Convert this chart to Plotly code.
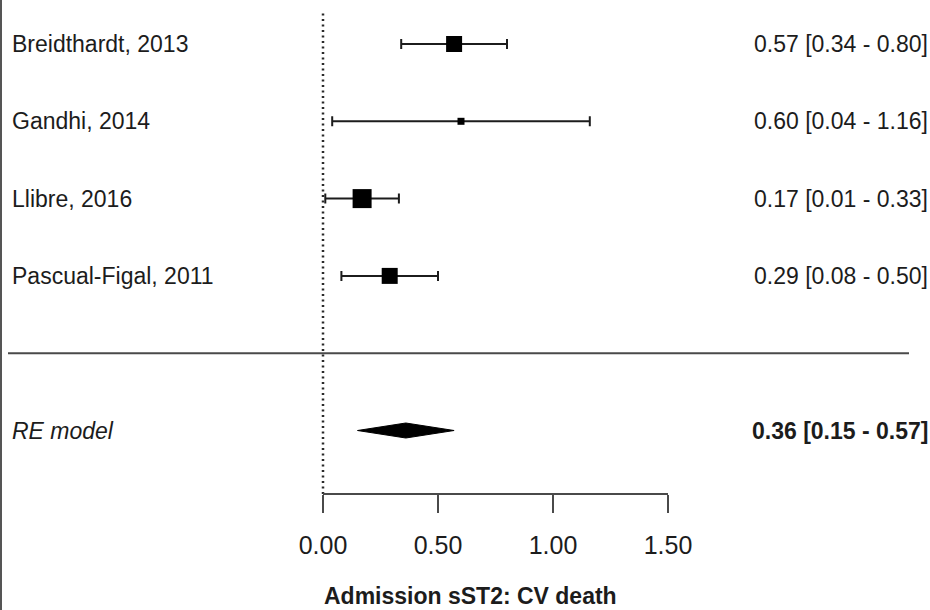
import plotly.graph_objects as go

# Study-level estimates (admission sST2, CV death)
studies = ["Breidthardt, 2013", "Gandhi, 2014", "Llibre, 2016", "Pascual-Figal, 2011"]
estimate = [0.57, 0.60, 0.17, 0.29]
ci_low = [0.34, 0.04, 0.01, 0.08]
ci_high = [0.80, 1.16, 0.33, 0.50]

# Random-effects pooled estimate
pooled_label = "RE model"
pooled_est = 0.36
pooled_low = 0.15
pooled_high = 0.57

tick_vals = [0.0, 0.5, 1.0, 1.5]
x_title = "Admission sST2: CV death"

# styling
W, H = 930, 610
MB = 116                      # bottom margin holding the axis labels
PX_PER_UNIT = 230.0
ZERO_PX = 323.0
ROW1_PX, ROW_STEP = 44.0, 77.3
square_px = [16, 7, 19, 16]   # box sizes reflect study weight
INK = "#1c1c1c"
RULE = "#4a4a4a"
FONT = "Liberation Sans, Arial, sans-serif"

plot_h = H - MB
x_range = [-ZERO_PX / PX_PER_UNIT, (W - ZERO_PX) / PX_PER_UNIT]
y_top = 1 - ROW1_PX / ROW_STEP
y_bot = 1 + (plot_h - ROW1_PX) / ROW_STEP
rows = list(range(1, len(studies) + 1))
sep_row = len(studies) + 1
pooled_row = len(studies) + 2

fig = go.Figure()

# study estimates with confidence intervals
fig.add_trace(go.Scatter(
    x=estimate, y=rows, mode="markers",
    marker=dict(symbol="square", size=square_px, color="black", opacity=1,
                line=dict(width=0)),
    error_x=dict(type="data", symmetric=False,
                 array=[h - e for h, e in zip(ci_high, estimate)],
                 arrayminus=[e - l for e, l in zip(estimate, ci_low)],
                 color=INK, thickness=2, width=5),
    showlegend=False, hoverinfo="skip",
))

# pooled diamond
half_h = 7.5 / ROW_STEP
fig.add_trace(go.Scatter(
    x=[pooled_low, pooled_est, pooled_high, pooled_est, pooled_low],
    y=[pooled_row, pooled_row - half_h, pooled_row, pooled_row + half_h, pooled_row],
    mode="lines", fill="toself", fillcolor="black",
    line=dict(color="black", width=1),
    showlegend=False, hoverinfo="skip",
))

shapes = [
    # reference line at zero
    dict(type="line", xref="x", yref="paper", x0=0, x1=0,
         y0=0, y1=(plot_h - 12) / plot_h,
         line=dict(color="#2a2a2a", width=2.5, dash="2px,3.5px")),
    # separator between studies and pooled estimate
    dict(type="line", xref="paper", yref="y", x0=8 / W, x1=909 / W,
         y0=sep_row, y1=sep_row, line=dict(color=RULE, width=2)),
    # axis baseline over the tick span
    dict(type="line", xref="x", yref="paper", x0=tick_vals[0], x1=tick_vals[-1],
         y0=0, y1=0, line=dict(color=RULE, width=2)),
    # frame edge on the left
    dict(type="line", xref="paper", yref="paper", x0=1 / W, x1=1 / W,
         y0=-MB / plot_h, y1=1, line=dict(color="#555555", width=2)),
]

annotations = []
for r, name, e, lo, hi in zip(rows, studies, estimate, ci_low, ci_high):
    annotations.append(dict(x=10 / W, xref="paper", y=r, yref="y", text=name,
                            xanchor="left", yanchor="middle", showarrow=False,
                            font=dict(size=23, color=INK, family=FONT)))
    annotations.append(dict(x=930 / W, xref="paper", y=r, yref="y",
                            text=f"{e:.2f} [{lo:.2f} - {hi:.2f}]",
                            xanchor="right", yanchor="middle", showarrow=False,
                            font=dict(size=23, color=INK, family=FONT)))
annotations.append(dict(x=10 / W, xref="paper", y=pooled_row, yref="y",
                        text=f"<i>{pooled_label}</i>",
                        xanchor="left", yanchor="middle", showarrow=False,
                        font=dict(size=23, color=INK, family=FONT)))
annotations.append(dict(x=930 / W, xref="paper", y=pooled_row, yref="y",
                        text=f"<b>{pooled_est:.2f} [{pooled_low:.2f} - {pooled_high:.2f}]</b>",
                        xanchor="right", yanchor="middle", showarrow=False,
                        font=dict(size=23, color=INK, family=FONT)))
annotations.append(dict(x=470 / W, xref="paper", y=-(596 - plot_h) / plot_h, yref="paper",
                        text=f"<b>{x_title}</b>", xanchor="center", yanchor="middle",
                        showarrow=False, font=dict(size=23, color=INK, family=FONT)))

fig.update_layout(
    width=W, height=H,
    margin=dict(l=0, r=0, t=0, b=MB),
    paper_bgcolor="white", plot_bgcolor="white",
    shapes=shapes, annotations=annotations,
    xaxis=dict(range=x_range, tickvals=tick_vals, tickformat=".2f",
               ticks="outside", ticklen=18, tickwidth=2, tickcolor=RULE,
               ticklabelstandoff=11,
               showgrid=False, zeroline=False, showline=False,
               tickfont=dict(size=25, color=INK, family=FONT), fixedrange=True),
    yaxis=dict(range=[y_bot, y_top], visible=False, showgrid=False,
               zeroline=False, fixedrange=True),
    font=dict(family=FONT),
)

fig.write_html("out.html")
